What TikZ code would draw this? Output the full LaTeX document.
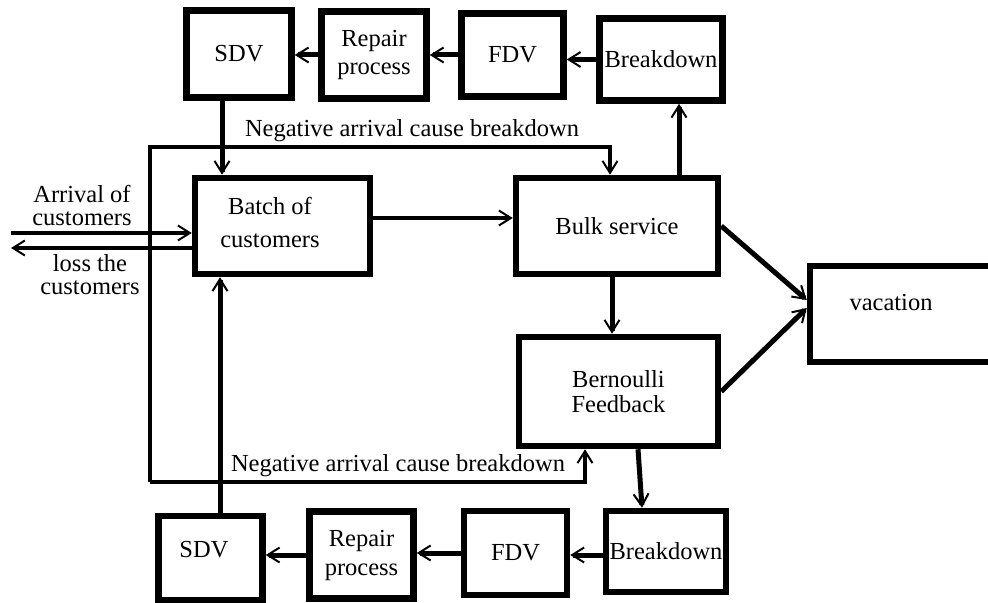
\documentclass[tikz,border=0pt]{standalone}
\usepackage{fontspec}
\setmainfont{Liberation Serif}
\usetikzlibrary{arrows.meta}
\begin{document}
\begin{tikzpicture}[x=0.5pt,y=-0.5pt,
  font=\fontsize{12.25}{13.5}\selectfont,
  box/.style={draw, line width=3.25pt, inner sep=0pt, align=center},
  tip/.style={-{Straight Barb[length=6pt,width=7.5pt,line width=1pt]}},
  thick conn/.style={tip, line width=2.5pt},
  mid conn/.style={tip, line width=2pt},
  thin conn/.style={tip, line width=1.75pt},
  lbl/.style={inner sep=0pt, align=center}]
\useasboundingbox (0,0) rectangle (988,603);
% top row
\node[box, minimum width=52.5pt, minimum height=43.5pt] (sdvT) at (239,54) {SDV};
\node[box, minimum width=52.5pt, minimum height=43.5pt, font=\fontsize{12.25}{14}\selectfont] (repT) at (374,55) {Repair\\process};
\node[box, minimum width=51pt, minimum height=41.5pt] (fdvT) at (512.5,55) {FDV};
\node[box, minimum width=61.5pt, minimum height=41pt] (brkT) at (661,59.5) {Breakdown};
% middle
\node[box, minimum width=87.5pt, minimum height=48pt] (batch) at (282.5,226) {};
\node[lbl, font=\fontsize{12.25}{16.5}\selectfont] (batchT) at (270,222) {Batch of\\customers};
\node[box, minimum width=101pt, minimum height=48pt] (bulk) at (617,226) {Bulk service};
\node[box, minimum width=99.5pt, minimum height=54.5pt, font=\fontsize{12.25}{12.5}\selectfont] (bern) at (618.5,391.5) {Bernoulli\\Feedback};
\node[box, minimum width=91pt, minimum height=48pt] (vac) at (901,314) {};
\node[lbl] (vacT) at (891,303) {vacation};
% bottom row
\node[box, minimum width=60pt, minimum height=40.5pt] (brkB) at (666,551.5) {Breakdown};
\node[box, minimum width=51.5pt, minimum height=42pt] (fdvB) at (515.5,553) {FDV};
\node[box, minimum width=52pt, minimum height=43.5pt, font=\fontsize{12.25}{14.5}\selectfont] (repB) at (361.5,555) {Repair\\process};
\node[box, minimum width=52pt, minimum height=42pt] (sdvB) at (210.5,558) {};
\node[lbl] (sdvBT) at (204,550) {SDV};
% labels
\node[lbl] (negT) at (412,131) {Negative arrival cause breakdown};
\node[lbl] (negB) at (398,466) {Negative arrival cause breakdown};
\node[lbl, font=\fontsize{12.25}{11.5}\selectfont] (arrT) at (82,205) {Arrival of\\customers};
\node[lbl, font=\fontsize{12.25}{11.5}\selectfont] (lossT) at (90,275) {loss the\\customers};
% coordinates
\coordinate (arrS) at (11,233);
\coordinate (lossE) at (11,248);
\coordinate (nTL) at (150,147);
\coordinate (nBL) at (150,482);
% top chain
\draw[thick conn] (brkT.west) -- (brkT.west -| fdvT.east);
\draw[thick conn] (fdvT.west) -- (fdvT.west -| repT.east);
\draw[thick conn] (repT.west) -- (repT.west -| sdvT.east);
\draw[thick conn] ([xshift=-8.5pt]sdvT.south) -- ([xshift=-8.5pt]sdvT.south |- batch.north);
% arrivals
\draw[mid conn] (arrS) -- (arrS -| batch.west);
\draw[mid conn] (lossE -| batch.west) -- (lossE);
\draw[mid conn] ([yshift=4pt]batch.east) -- ([yshift=4pt]batch.east -| bulk.west);
% negative arrival loop
\draw[thin conn] (nBL) -- (nTL) -| ([xshift=-3.5pt]bulk.north);
\draw[thin conn] (nBL) -| ([xshift=-16.75pt]bern.south);
% bulk service
\draw[thick conn] ([xshift=31pt]bulk.north) -- ([xshift=31pt]bulk.north |- brkT.south);
\draw[thick conn] ([xshift=-2.5pt]bulk.south) -- ([xshift=-2.5pt]bulk.south |- bern.north);
\draw[thick conn] (bulk.east) -- ([yshift=7pt]vac.west);
\draw[thick conn] (bern.east) -- ([yshift=3pt]vac.west);
\draw[thick conn] ([xshift=9.75pt]bern.south) -- ([xshift=-12pt]brkB.north);
% bottom chain
\draw[thick conn] ([yshift=-1.75pt]brkB.west) -- ([yshift=-1.75pt]brkB.west -| fdvB.east);
\draw[thick conn] (fdvB.west) -- (fdvB.west -| repB.east);
\draw[thick conn] (repB.west) -- (repB.west -| sdvB.east);
\draw[thick conn] ([xshift=4.75pt]sdvB.north) -- ([xshift=4.75pt]sdvB.north |- batch.south);
\end{tikzpicture}
\end{document}
